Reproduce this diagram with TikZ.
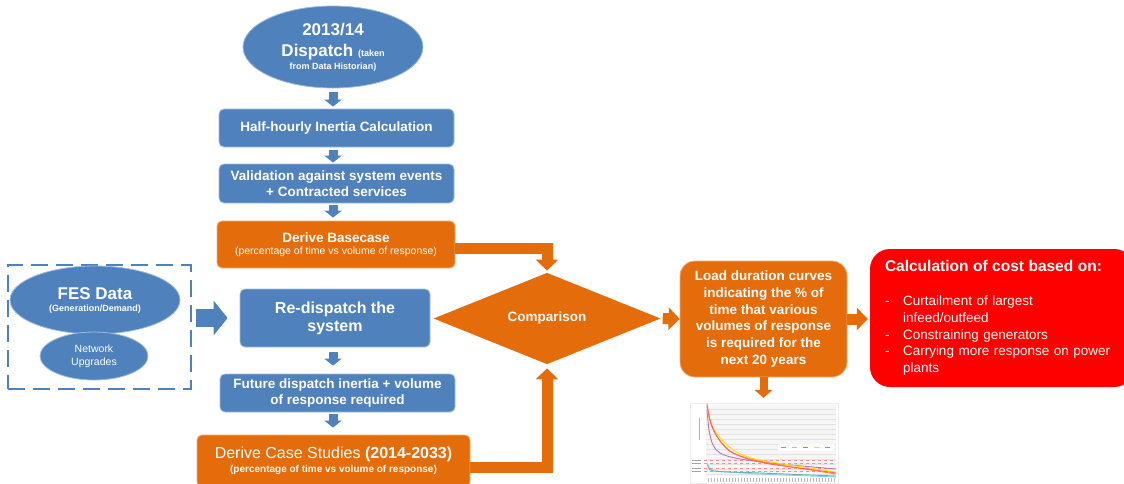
\documentclass[tikz,border=0pt]{standalone}
\usepackage{fontspec}
\setmainfont{Liberation Sans}
\usetikzlibrary{shapes.geometric,arrows.meta,positioning}
\definecolor{flowblue}{HTML}{4F81BD}
\definecolor{floworange}{HTML}{E46C0A}
\definecolor{costred}{HTML}{FF0000}

\begin{document}
\begin{tikzpicture}[
  x=1pt, y=-1pt,
  bluebox/.style={rectangle, rounded corners=5pt, draw=flowblue!55!white, line width=0.8pt,
                  fill=flowblue, text=white, align=center, inner sep=2pt,
                  font=\fontsize{13.5}{16.5}\selectfont\bfseries},
  orgbox/.style={bluebox, draw=floworange!55!white, fill=floworange},
  blueell/.style={ellipse, draw=flowblue!55!white, line width=0.8pt, fill=flowblue,
                  text=white, align=center, inner sep=0pt},
  cmpdec/.style={diamond, fill=floworange, text=white, inner sep=0pt,
                 minimum width=227pt, minimum height=59pt, font=\fontsize{13.5}{16}\selectfont\bfseries},
  costbox/.style={rectangle, rounded corners=20pt, fill=costred, text=white, align=left,
                  inner xsep=15pt, text width=234pt, minimum height=138pt,
                  font=\fontsize{13.5}{16.7}\selectfont},
  scenario/.style={rectangle, draw=flowblue, line width=2.5pt, dash pattern=on 17pt off 8pt},
  barr/.style={draw=flowblue, line width=9pt, -{Triangle[length=7pt,width=17pt]}},
  bigbarr/.style={draw=flowblue, line width=18pt, -{Triangle[length=14pt,width=34pt]}},
  oarr/.style={draw=floworange, line width=11pt, -{Triangle[length=11pt,width=22pt]}},
  smalloarr/.style={draw=floworange, line width=8pt, -{Triangle[length=8pt,width=18pt]}},
]
\useasboundingbox (0,0) rectangle (1124,483);

% left column
\node[blueell, minimum width=180pt, minimum height=82pt, font=\fontsize{17}{21}\selectfont\bfseries]
  (dispatch) at (333,47) {2013/14\\Dispatch {\fontsize{9}{10}\selectfont (taken}\\[-8pt]{\fontsize{9}{10}\selectfont from Data Historian)}};
\node[bluebox, minimum width=235pt, minimum height=38pt] (halfhour) at (336.5,128) {Half-hourly Inertia Calculation};
\node[bluebox, minimum width=235pt, minimum height=39pt] (valid) at (336.5,183.5) {Validation against system events\\+ Contracted services};
\node[orgbox, minimum width=238pt, minimum height=47pt] (base) at (336,244.5)
  {Derive Basecase\\[-4pt]{\fontsize{10.5}{12}\selectfont\mdseries (percentage of time vs volume of response)}};

\node[scenario, minimum width=183pt, minimum height=124pt] (scen) at (99.5,327) {};
\node[blueell, minimum width=170pt, minimum height=68pt, font=\fontsize{17}{21}\selectfont\bfseries]
  (fes) at (95,300) {FES Data\\[-9pt]{\fontsize{9}{10}\selectfont (Generation/Demand)}};
\node[blueell, minimum width=108pt, minimum height=48pt, font=\fontsize{10.5}{13}\selectfont]
  (netup) at (94,356) {Network\\Upgrades};

\node[bluebox, minimum width=190pt, minimum height=58pt, font=\fontsize{16}{18}\selectfont\bfseries]
  (redisp) at (335,318) {Re-dispatch the\\system};
\node[bluebox, minimum width=235pt, minimum height=38pt] (future) at (337.5,393) {Future dispatch inertia + volume\\of response required};
\node[orgbox, minimum width=273pt, minimum height=52pt, font=\fontsize{16}{19}\selectfont\bfseries] (cases) at (333.5,461)
  {{\mdseries Derive Case Studies} (2014-2033)\\[-5pt]{\fontsize{10}{12}\selectfont (percentage of time vs volume of response)}};

% comparison and results
\node[cmpdec] (comp) at (547,318.5) {Comparison};
\node[orgbox, rounded corners=15pt, minimum width=167pt, minimum height=116pt, font=\fontsize{13.5}{16.7}\selectfont\bfseries]
  (load) at (763.5,319) {Load duration curves\\indicating the \% of\\time that various\\volumes of response\\is required for the\\next 20 years};
\node[costbox, minimum width=264pt] (cost) at (1002,318)
  {{\fontsize{15.5}{18}\selectfont\bfseries Calculation of cost based on:}\\[17pt]
   \makebox[18pt][l]{-}Curtailment of largest\\
   \hspace*{18pt}infeed/outfeed\\
   \makebox[18pt][l]{-}Constraining generators\\
   \makebox[18pt][l]{-}Carrying more response on power\\
   \hspace*{18pt}plants};

% load duration chart
\node[rectangle, fill=white, draw=gray!15, minimum width=148pt, minimum height=80pt] (chart) at (764,443) {};
\fill[gray!7] (706,405) rectangle (836,476);
\foreach \gy in {409,414,...,474}
  \draw[gray!22, line width=0.3pt] (706,\gy) -- (836,\gy);
\foreach \gy in {460,463,468,471} {
  \draw[red!45, dashed, line width=0.4pt] (704,\gy) -- (836,\gy);
  \draw[gray!70, line width=0.8pt] (692,\gy) -- (701,\gy);
}
\draw[gray!60, line width=0.6pt] (699,418) -- (699,440);
\foreach \tx in {708,711,...,836}
  \draw[gray!55, line width=0.5pt] (\tx,478) -- (\tx,482);
\draw[violet!55, line width=0.9pt] plot[smooth] coordinates {(707,410) (709,430) (713,445) (720,453) (735,458) (770,463) (836,469)};
\draw[yellow!80!orange, line width=0.9pt] plot[smooth] coordinates {(708,414) (713,428) (722,440) (735,451) (755,459) (790,465) (836,472)};
\draw[orange!90, line width=0.9pt] plot[smooth] coordinates {(707,406) (711,424) (718,438) (730,451) (750,459) (780,465) (836,474)};
\draw[red!60, line width=0.9pt] plot[smooth] coordinates {(707,404) (710,420) (716,435) (728,450) (745,458) (770,464) (800,468) (836,473)};
\draw[cyan!50, line width=0.9pt] plot[smooth] coordinates {(707,463) (710,469) (716,471) (760,474) (836,477)};
\draw[teal!60, line width=0.9pt] plot[smooth] coordinates {(708,465) (714,471) (760,473) (836,476)};
\fill[white] (778,444) rectangle (834,451);
\foreach \lx/\lc in {781/teal!60, 792/cyan!50, 803/violet!55, 814/yellow!80!orange, 825/red!60}
  \draw[\lc, line width=1pt] (\lx,447.5) -- +(5,0);

% connectors
\draw[barr, shorten <=4pt, shorten >=2pt] (dispatch.south) -- (dispatch.south |- halfhour.north);
\draw[barr, shorten <=3pt, shorten >=1pt] (dispatch.south |- halfhour.south) -- (dispatch.south |- valid.north);
\draw[barr, shorten <=2pt, shorten >=3pt] (dispatch.south |- valid.south) -- (dispatch.south |- base.north);
\draw[bigbarr, shorten <=4pt, shorten >=12pt] (scen.east |- redisp.west) -- (redisp.west);
\draw[barr, shorten <=5pt, shorten >=8pt] (dispatch.south |- redisp.south) -- (dispatch.south |- future.north);
\draw[barr, shorten <=2pt, shorten >=7pt] (dispatch.south |- future.south) -- (dispatch.south |- cases.north);
\draw[oarr, shorten >=2pt] ([yshift=-3.5pt]base.east) -| (comp.north);
\draw[oarr, shorten >=4pt] ([yshift=-6pt]cases.east) -| (comp.south);
\draw[oarr, shorten <=2pt] (comp.east) -- (load.west);
\draw[oarr, shorten >=2pt] (load.east) -- (load.east -| cost.west);
\draw[smalloarr, shorten >=5pt] (load.south) -- (load.south |- chart.north);

\end{tikzpicture}
\end{document}
